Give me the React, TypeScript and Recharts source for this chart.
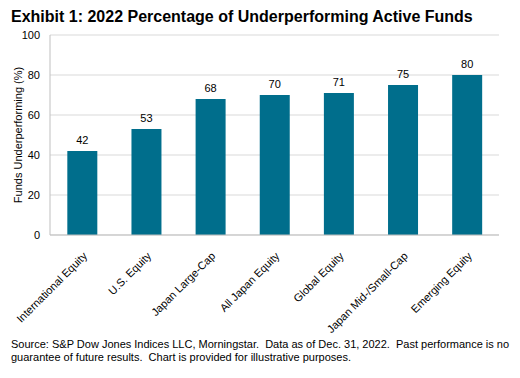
import React from 'react';
import { BarChart, Bar, XAxis, YAxis, CartesianGrid, LabelList } from 'recharts';

const categories = [
  'International Equity',
  'U.S. Equity',
  'Japan Large-Cap',
  'All Japan Equity',
  'Global Equity',
  'Japan Mid-/Small-Cap',
  'Emerging Equity',
];
const underperforming = [42, 53, 68, 70, 71, 75, 80];
const yTicks = [0, 20, 40, 60, 80, 100];

const font = 'Arial, "Liberation Sans", sans-serif';

const data = categories.map((name, i) => ({ name, value: underperforming[i] }));

function CategoryTick({ x, y, payload }: any) {
  return (
    <g transform={`translate(${x + 3},${y + 11}) rotate(-45)`}>
      <text x={0} y={0} dy="0.35em" textAnchor="end" fill="#000" fontSize={11} fontFamily={font}>
        {payload.value}
      </text>
    </g>
  );
}

export default function App() {
  return (
    <div style={{ position: 'absolute', left: 0, top: 0, width: 520, height: 378, background: '#fff', fontFamily: font }}>
      <div style={{ position: 'absolute', left: 0, top: 0 }}>
        <BarChart width={520} height={378} data={data} margin={{ top: 35, right: 21, left: 0, bottom: 58 }} barCategoryGap="27%">
          <CartesianGrid vertical={false} stroke="#d9d9d9" />
          <XAxis
            dataKey="name"
            interval={0}
            height={85}
            tick={<CategoryTick />}
            tickLine={false}
            axisLine={{ stroke: '#bfbfbf' }}
          />
          <YAxis
            width={50}
            domain={[0, 100]}
            ticks={yTicks}
            tickLine={false}
            tickMargin={4}
            axisLine={{ stroke: '#bfbfbf' }}
            tick={{ fill: '#000', fontSize: 11, fontFamily: font }}
            label={{ value: 'Funds Underperforming (%)', angle: -90, position: 'center', dx: -7, fill: '#000', fontSize: 11, fontFamily: font }}
          />
          <Bar dataKey="value" fill="#006E8C" isAnimationActive={false}>
            <LabelList dataKey="value" position="top" offset={7} fill="#000" fontSize={11} fontFamily={font} />
          </Bar>
        </BarChart>
      </div>
      <div style={{ position: 'absolute', left: 11, top: 8, fontSize: 16, fontWeight: 'bold', color: '#000', whiteSpace: 'nowrap' }}>
        Exhibit 1: 2022 Percentage of Underperforming Active Funds
      </div>
      <div style={{ position: 'absolute', left: 11, top: 338, fontSize: 11, lineHeight: '13px', color: '#000', width: 505, whiteSpace: 'nowrap' }}>
        Source: S&amp;P Dow Jones Indices LLC, Morningstar.&nbsp; Data as of Dec. 31, 2022.&nbsp; Past performance is no
        <br />
        guarantee of future results.&nbsp; Chart is provided for illustrative purposes.
      </div>
    </div>
  );
}
